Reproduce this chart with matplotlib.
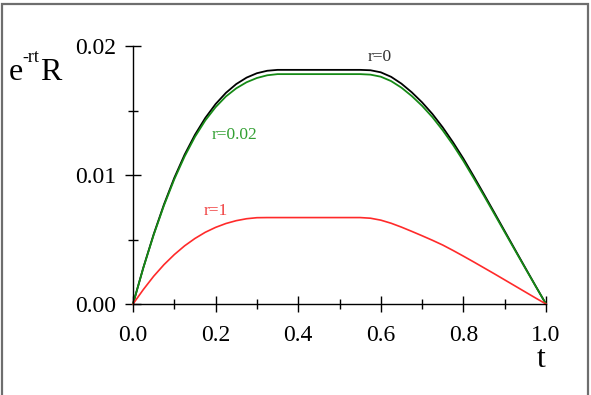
"""Discounted payoff e^{-rt} R over t for three discount rates."""

import matplotlib
matplotlib.use("Agg")
import matplotlib.pyplot as plt
from matplotlib.patches import Rectangle
from matplotlib.ticker import MultipleLocator

t = [0.0, 0.025, 0.05, 0.075, 0.1, 0.125, 0.15, 0.175, 0.2, 0.225, 0.25,
     0.275, 0.3, 0.325, 0.35, 0.375, 0.4, 0.425, 0.45, 0.475, 0.5, 0.525,
     0.55, 0.575, 0.6, 0.625, 0.65, 0.675, 0.7, 0.725, 0.75, 0.775, 0.8,
     0.825, 0.85, 0.875, 0.9, 0.925, 0.95, 0.975, 1.0]

# values in units of 1e-5
r0 = [0, 282, 540, 772, 978, 1158, 1312, 1442, 1550, 1637, 1705, 1755, 1789,
      1808, 1815, 1815, 1815, 1815, 1815, 1815, 1815, 1815, 1815, 1812, 1796,
      1761, 1708, 1641, 1563, 1473, 1369, 1253, 1127, 990, 850, 708, 565, 422,
      280, 139, 0]

r002 = [0, 280, 535, 764, 967, 1144, 1296, 1423, 1526, 1609, 1672, 1719, 1752,
        1773, 1782, 1782, 1782, 1782, 1782, 1782, 1782, 1782, 1782, 1778, 1762,
        1728, 1677, 1612, 1536, 1448, 1346, 1233, 1109, 975, 838, 698, 557,
        416, 276, 137, 0]

r1 = [0, 112, 215, 305, 383, 451, 508, 556, 594, 624, 646, 661, 669, 670, 670,
      670, 670, 670, 670, 670, 670, 670, 670, 665, 650, 626, 596, 563, 529,
      494, 457, 415, 371, 326, 280, 234, 187, 140, 93, 46, 0]

plt.rcParams["font.family"] = "Liberation Serif"

W, H = 591, 395
fig = plt.figure(figsize=(W / 100, H / 100), dpi=100)
ax = fig.add_axes([133 / W, 1 - 304 / H, 413 / W, 258 / H])

scale = 1e-5
ax.plot(t, [v * scale for v in r0], color="black", lw=1.3, clip_on=False)
ax.plot(t, [v * scale for v in r002], color="#168a16", lw=1.3, clip_on=False)
ax.plot(t, [v * scale for v in r1], color="#ff2a2a", lw=1.2, clip_on=False)

ax.set_xlim(0, 1)
ax.set_ylim(0, 0.02)
ax.xaxis.set_major_locator(MultipleLocator(0.2))
ax.xaxis.set_minor_locator(MultipleLocator(0.1))
ax.yaxis.set_major_locator(MultipleLocator(0.01))
ax.yaxis.set_minor_locator(MultipleLocator(0.005))
ax.xaxis.set_major_formatter(lambda v, p: f"{v:.1f}")
ax.yaxis.set_major_formatter(lambda v, p: f"{v:.2f}")

for s in ("top", "right"):
    ax.spines[s].set_visible(False)
for s in ("left", "bottom"):
    ax.spines[s].set_linewidth(1.0)
ax.tick_params(which="major", direction="inout", length=12, width=1,
               labelsize=17)
ax.tick_params(which="minor", direction="inout", length=7, width=1)
ax.tick_params(axis="x", which="major", pad=9)
ax.tick_params(axis="y", which="major", pad=6)

# curve labels
ax.text(0.568, 0.0188, "r=0", fontsize=12.5, color="#333333")
ax.text(0.19, 0.0128, "r=0.02", fontsize=12.5, color="#33a033")
ax.text(0.17, 0.0069, "r=1", fontsize=12.5, color="#f04040")

# axis titles
fig.text(537 / W, 1 - 367 / H, "t", fontsize=23)
fig.text(9 / W, 1 - 80 / H, "e", fontsize=23)
fig.text(22 / W, 1 - 62 / H, "-rt", fontsize=13)
fig.text(40 / W, 1 - 80 / H, "R", fontsize=23)

# grey frame, open at the bottom
fig.patches.append(Rectangle((2 / W, -0.05), 586 / W, 1.05 - 4 / H,
                             transform=fig.transFigure, fill=False,
                             edgecolor="#6e6e6e", lw=1.6, clip_on=False))

fig.savefig("out.png", dpi=100)
